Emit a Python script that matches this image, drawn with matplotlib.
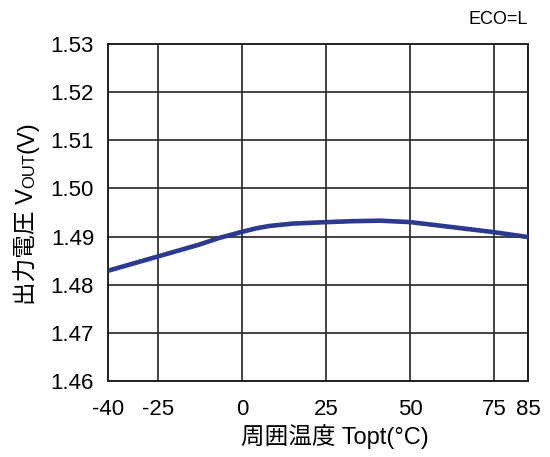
import matplotlib
matplotlib.use("Agg")
import matplotlib.pyplot as plt

# temperature (degC) vs output voltage (V)
temp = [-40, -25, -13, -7, 0, 4, 8, 15, 25, 33, 41, 50, 62, 75, 85]
vout = [1.4829, 1.4859, 1.4883, 1.4897, 1.4910, 1.4917, 1.4922, 1.4927,
        1.4930, 1.4932, 1.4933, 1.4930, 1.4920, 1.4909, 1.4899]

x_ticks = [-40, -25, 0, 25, 50, 75, 85]
x_labels = ["-40", "-25", "0", "25", "50", "75", "85"]
y_ticks = [1.46, 1.47, 1.48, 1.49, 1.50, 1.51, 1.52, 1.53]
y_labels = ["%.2f" % v for v in y_ticks]

fam = ["Liberation Sans", "Noto Sans CJK JP"]
plt.rcParams["font.family"] = fam

fig = plt.figure(figsize=(5.5, 4.57), dpi=100)
ax = fig.add_axes([108 / 550, 1 - 381 / 457, 420 / 550, 337 / 457])

ax.plot(temp, vout, color="#2B3990", lw=3.3, solid_capstyle="butt", zorder=3)

ax.set_xlim(-40, 85)
ax.set_ylim(1.46, 1.53)
ax.set_xticks(x_ticks)
ax.set_xticklabels(x_labels)
ax.set_yticks(y_ticks)
ax.set_yticklabels(y_labels)
ax.tick_params(length=0, labelsize=16, colors="black")
ax.tick_params(axis="x", pad=13)
ax.tick_params(axis="y", pad=10)
ax.grid(True, color="#222222", lw=1.2)
for s in ax.spines.values():
    s.set_linewidth(1.4)
    s.set_color("#222222")

fig.text(335 / 550, 1 - 437 / 457, "周囲温度 Topt(°C)", fontsize=17,
         ha="center", va="center")
fig.text(528 / 550, 1 - 20 / 457, "ECO=L", fontsize=13, ha="right", va="center")

# y label with small "OUT" after the V, built from three rotated pieces
pieces = [("出力電圧 V", 17), ("OUT", 12), ("(V)", 17)]
renderer = fig.canvas.get_renderer()
xpix = 34
texts = []
for s, fs in pieces:
    t = fig.text(0, 0, s, fontsize=fs, rotation=90, rotation_mode="anchor",
                 ha="left", va="baseline", transform=None)
    texts.append(t)
lengths = [t.get_window_extent(renderer).height for t in texts]
ypix = (1 - 213 / 457) * fig.bbox.height - sum(lengths) / 2
for t, L in zip(texts, lengths):
    t.set_position((xpix, ypix))
    ypix += L

fig.savefig("out.png", dpi=100)
